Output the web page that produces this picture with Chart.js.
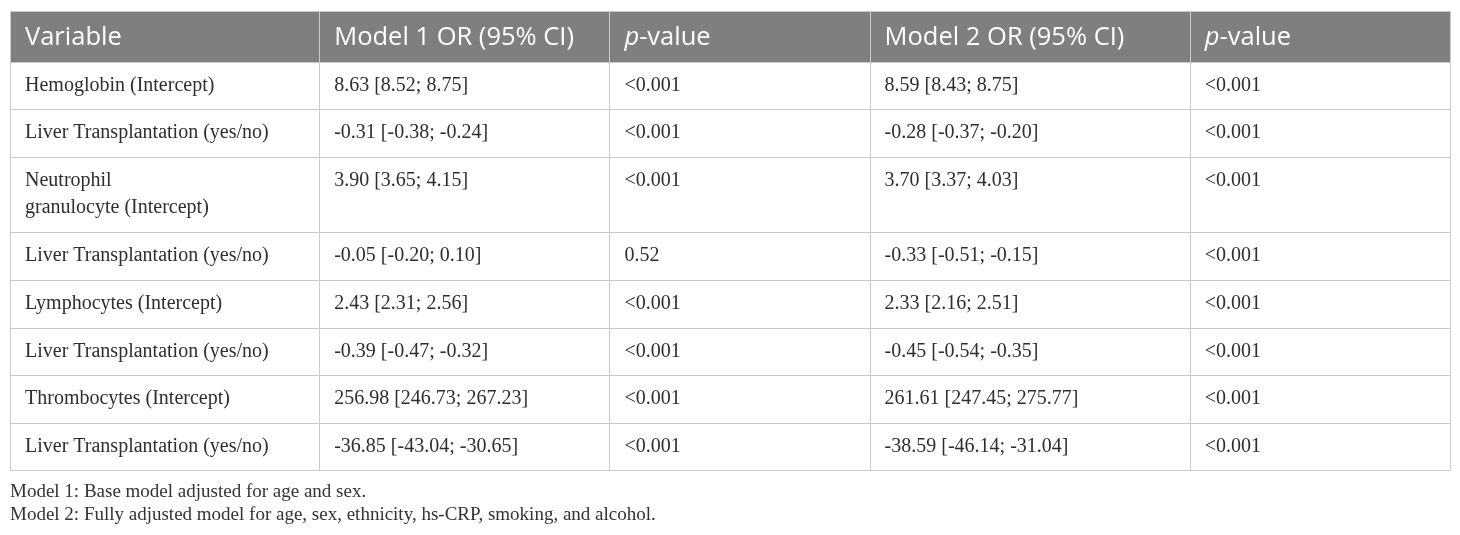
<!DOCTYPE html>
<html>
<head>
<meta charset="utf-8">
<script src="https://cdn.jsdelivr.net/npm/chart.js@4/dist/chart.umd.min.js"></script>
<style>
  html, body { margin: 0; padding: 0; background: #ffffff; }
  #wrap { width: 1460px; height: 535px; position: relative; }
</style>
</head>
<body>
<div id="wrap"><canvas id="c" width="1460" height="535"></canvas></div>
<script>
// ---- table content ----
const headers = ["Variable", "Model 1 OR (95% CI)", "p-value", "Model 2 OR (95% CI)", "p-value"];
const variables = [
  "Hemoglobin (Intercept)",
  "Liver Transplantation (yes/no)",
  "Neutrophil\ngranulocyte (Intercept)",
  "Liver Transplantation (yes/no)",
  "Lymphocytes (Intercept)",
  "Liver Transplantation (yes/no)",
  "Thrombocytes (Intercept)",
  "Liver Transplantation (yes/no)"
];
const model1 = [
  "8.63 [8.52; 8.75]",
  "-0.31 [-0.38; -0.24]",
  "3.90 [3.65; 4.15]",
  "-0.05 [-0.20; 0.10]",
  "2.43 [2.31; 2.56]",
  "-0.39 [-0.47; -0.32]",
  "256.98 [246.73; 267.23]",
  "-36.85 [-43.04; -30.65]"
];
const pValue1 = ["<0.001", "<0.001", "<0.001", "0.52", "<0.001", "<0.001", "<0.001", "<0.001"];
const model2 = [
  "8.59 [8.43; 8.75]",
  "-0.28 [-0.37; -0.20]",
  "3.70 [3.37; 4.03]",
  "-0.33 [-0.51; -0.15]",
  "2.33 [2.16; 2.51]",
  "-0.45 [-0.54; -0.35]",
  "261.61 [247.45; 275.77]",
  "-38.59 [-46.14; -31.04]"
];
const pValue2 = ["<0.001", "<0.001", "<0.001", "<0.001", "<0.001", "<0.001", "<0.001", "<0.001"];
const footnotes = [
  "Model 1: Base model adjusted for age and sex.",
  "Model 2: Fully adjusted model for age, sex, ethnicity, hs-CRP, smoking, and alcohol."
];

// ---- layout (in scale units) ----
const colEdges = [0, 309, 599, 859, 1179, 1439];
const rowEdges = [0, 51, 98, 146, 221, 269, 317, 364, 412, 459];

const columns = [variables, model1, pValue1, model2, pValue2];

const tablePlugin = {
  id: 'tablePlugin',
  afterDraw(chart) {
    const ctx = chart.ctx;
    const xs = chart.scales.x, ys = chart.scales.y;
    const X = v => xs.getPixelForValue(v);
    const Y = v => ys.getPixelForValue(v);
    const left = X(colEdges[0]), right = X(colEdges[colEdges.length - 1]);
    const top = Y(rowEdges[0]), bottom = Y(rowEdges[rowEdges.length - 1]);
    ctx.save();
    // header background
    ctx.fillStyle = '#7f7f7f';
    ctx.fillRect(left, top, right - left, Y(rowEdges[1]) - top);
    // grid lines
    ctx.strokeStyle = '#cacaca';
    ctx.lineWidth = 1;
    ctx.beginPath();
    for (let i = 1; i < rowEdges.length; i++) {
      const y = Math.round(Y(rowEdges[i])) + 0.5;
      ctx.moveTo(left, y); ctx.lineTo(right, y);
    }
    for (let j = 0; j < colEdges.length; j++) {
      const x = Math.round(X(colEdges[j])) + 0.5;
      ctx.moveTo(x, top); ctx.lineTo(x, bottom);
    }
    ctx.moveTo(left, Math.round(top) + 0.5); ctx.lineTo(right, Math.round(top) + 0.5);
    ctx.stroke();

    // header text
    ctx.textBaseline = 'middle';
    ctx.textAlign = 'left';
    ctx.fillStyle = '#ffffff';
    const hy = (Y(rowEdges[0]) + Y(rowEdges[1])) / 2 + 1;
    const hFont = '25.5px "Open Sans"';
    headers.forEach((h, j) => {
      const x = X(colEdges[j]) + 15;
      if (h.startsWith('p-')) {
        ctx.font = 'italic 25.5px "Open Sans"';
        ctx.fillText('p', x, hy);
        const w = ctx.measureText('p').width;
        ctx.font = hFont;
        ctx.fillText(h.slice(1), x + w, hy);
      } else {
        ctx.font = hFont;
        ctx.fillText(h, x, hy);
      }
    });

    // body text
    ctx.fillStyle = '#2e2e2e';
    ctx.font = '20px "Liberation Serif"';
    for (let i = 0; i < variables.length; i++) {
      const rTop = Y(rowEdges[i + 1]);
      columns.forEach((col, j) => {
        const lines = String(col[i]).split('\n');
        lines.forEach((ln, k) => {
          ctx.fillText(ln, X(colEdges[j]) + 15, rTop + 24 + k * 27);
        });
      });
    }

    // footnotes
    ctx.font = '19px "Liberation Serif"';
    ctx.fillStyle = '#333333';
    footnotes.forEach((f, k) => {
      ctx.fillText(f, left, bottom + 22 + k * 23);
    });
    ctx.restore();
  }
};

new Chart(document.getElementById('c'), {
  type: 'scatter',
  data: { datasets: [] },
  options: {
    responsive: false,
    animation: false,
    devicePixelRatio: 1,
    layout: { padding: { left: 10, right: 10, top: 11, bottom: 65 } },
    plugins: { legend: { display: false }, tooltip: { enabled: false } },
    scales: {
      x: { type: 'linear', min: colEdges[0], max: colEdges[colEdges.length - 1], display: false },
      y: { type: 'linear', min: rowEdges[0], max: rowEdges[rowEdges.length - 1], reverse: true, display: false }
    }
  },
  plugins: [tablePlugin]
});
</script>
</body>
</html>
